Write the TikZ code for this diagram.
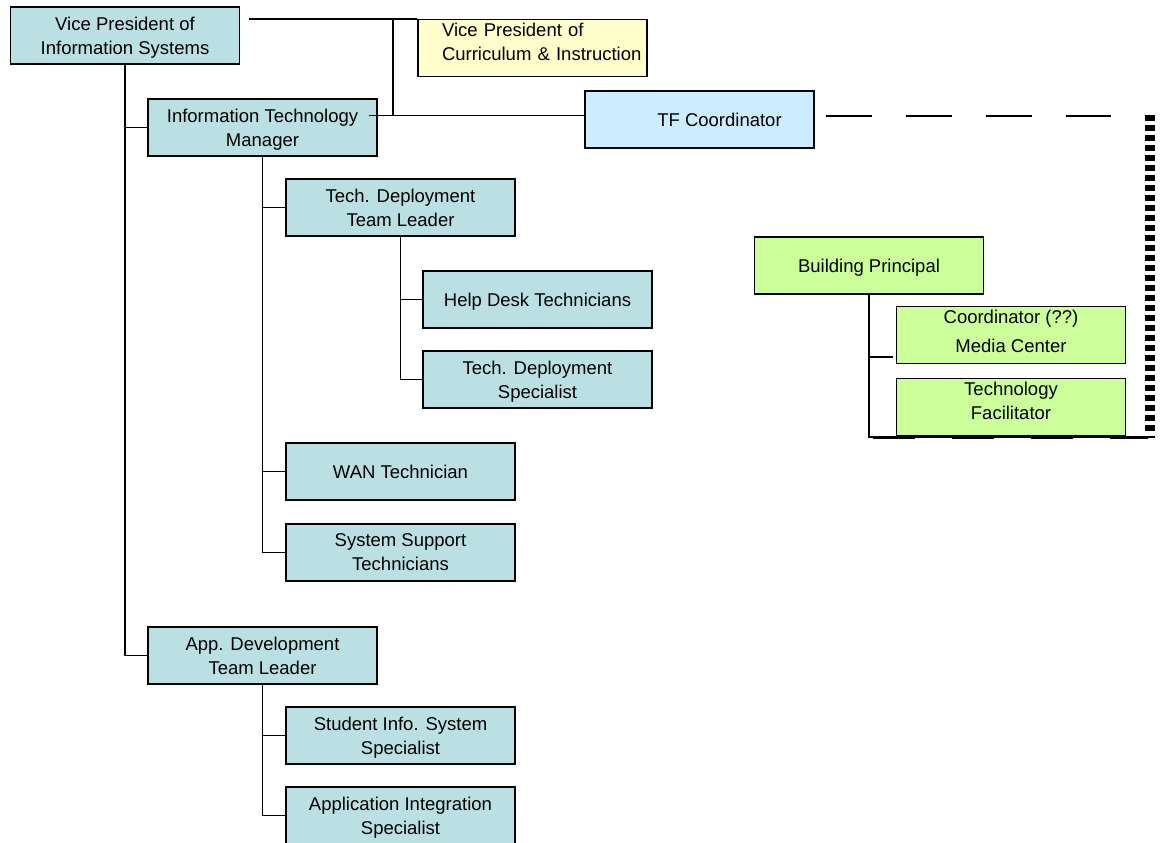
\documentclass[tikz,border=0pt]{standalone}
\usepackage{fontspec}
\setmainfont{Liberation Sans}
\usepackage{tikz}
\usetikzlibrary{calc}

\definecolor{orgteal}{RGB}{187,224,227}
\definecolor{orgyellow}{RGB}{255,255,204}
\definecolor{orgblue}{RGB}{204,236,255}
\definecolor{orggreen}{RGB}{204,255,153}

\begin{document}
\begin{tikzpicture}[x=1pt, y=-1pt,
        box/.style={draw, line width=1.6pt, minimum width=229pt, minimum height=57pt,
            inner sep=0pt, align=center, text depth=0pt, font=\fontsize{18.5}{24}\selectfont},
        isbox/.style={box, fill=orgteal},
        link/.style={line width=1.6pt}]
        \useasboundingbox (0,0) rectangle (1163,843);

        % information systems side
        \node[isbox] (vpis) at (125,35.5) {Vice President of\\Information Systems};
        \node[isbox] (itm) at (262.5,127.5) {Information Technology\\Manager};
        \node[isbox] (tdtl) at (400.5,207.5) {Tech. Deployment\\Team Leader};
        \node[isbox] (help) at (537.5,299.5) {Help Desk Technicians};
        \node[isbox] (tds) at (537.5,379.5) {Tech. Deployment\\Specialist};
        \node[isbox] (wan) at (400.5,471.5) {WAN Technician};
        \node[isbox] (sst) at (400.5,552.5) {System Support\\Technicians};
        \node[isbox] (appdev) at (262.5,655.5) {App. Development\\Team Leader};
        \node[isbox] (sis) at (400.5,735.5) {Student Info. System\\Specialist};
        \node[isbox] (ais) at (400.5,815.5) {Application Integration\\Specialist};

        % curriculum side
        \node[box, fill=orgyellow, align=left, text width=181pt, text depth={}] (vpci) at (532.5,48)
            {Vice President of\\\mbox{Curriculum \& Instruction}\\[-12pt]\mbox{}};
        \node[box, fill=orgblue] (tf) at (699.5,119.5) {\hspace*{40pt}TF Coordinator};
        \node[box, fill=orggreen] (bp) at (869,265.5) {Building Principal};
        \node[box, fill=orggreen] (coord) at (1011,335) {Coordinator (??)\\[5pt]Media Center\\[-16pt]\mbox{}};
        \node[box, fill=orggreen] (techf) at (1011,407) {Technology\\Facilitator\\[-12pt]\mbox{}};

        \draw[link] (vpis.south) |- (itm.west);
        \draw[link] (vpis.south) |- (appdev.west);
        \draw[link] (itm.south) |- (tdtl.west);
        \draw[link] (itm.south) |- (wan.west);
        \draw[link] (itm.south) |- (sst.west);
        \draw[link] (tdtl.south) |- (help.west);
        \draw[link] (tdtl.south) |- (tds.west);
        \draw[link] (appdev.south) |- (sis.west);
        \draw[link] (appdev.south) |- (ais.west);

        \coordinate (vptie) at (249,19);
        \coordinate (tiedrop) at (393,19);
        \coordinate (itmtie) at (369,115.5);
        \draw[link] (vptie) -- (vptie -| vpci.west);
        \draw[link] (tiedrop) -- (tiedrop |- itmtie);
        \draw[link] (itmtie) -- (itmtie -| tf.west);

        \coordinate (loopcorner) at (1155,437);
        \draw[link] (bp.south) |- ([xshift=-3pt,yshift=-22pt]coord.west);
        \draw[link] (bp.south) |- (loopcorner);

        % dotted-line report from TF coordinator
        \draw[line width=2pt, dash pattern=on 46pt off 34pt] ([xshift=11pt,yshift=3.5pt]tf.east) -- (1111,116);
        \draw[line width=10pt, dash pattern=on 6pt off 4pt] (1150,115) -- (1150,434);
        \draw[line width=3pt, dash pattern=on 42pt off 37pt] (873,437) -- (1148,437);
    \end{tikzpicture}
\end{document}
